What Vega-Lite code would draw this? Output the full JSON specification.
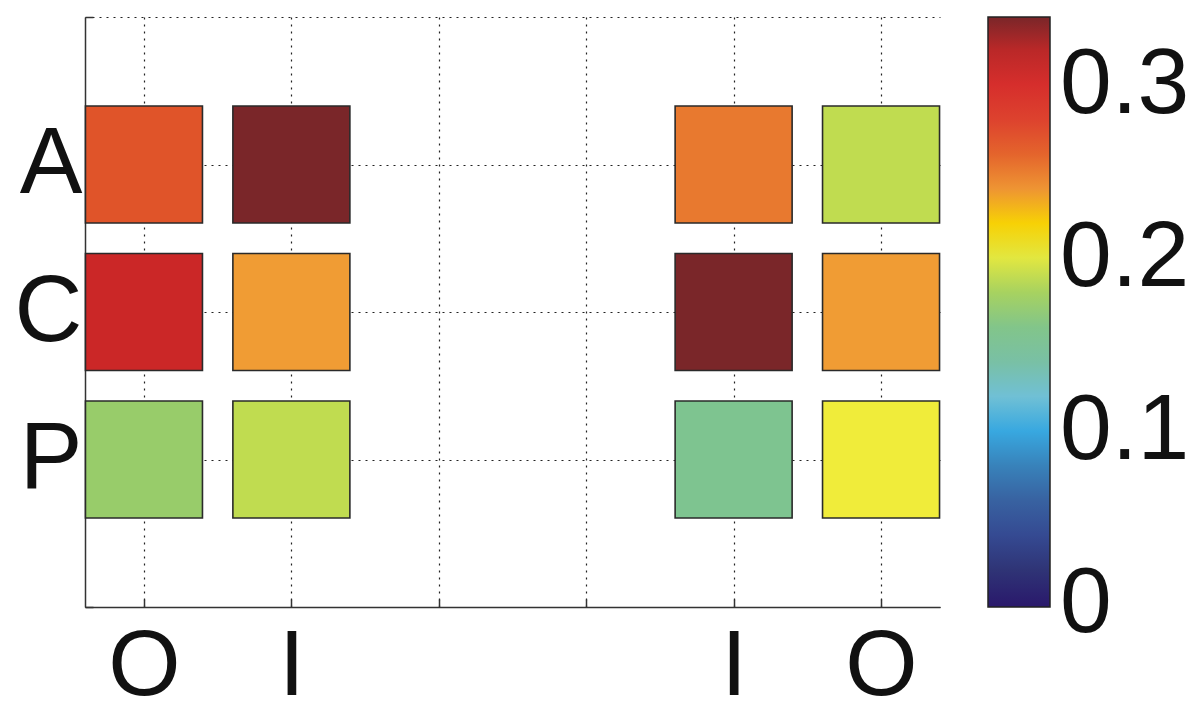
{
  "$schema": "https://vega.github.io/schema/vega-lite/v6.json",
  "width": 855,
  "height": 590,
  "autosize": {"type": "none"},
  "padding": {"left": 85, "top": 17, "right": 254, "bottom": 97},
  "background": "white",
  "config": {
    "view": {"stroke": null},
    "font": "Liberation Sans"
  },
  "data": {
    "values": [
      {"col": 1, "row": 1, "v": 0.268},
      {"col": 2, "row": 1, "v": 0.339},
      {"col": 5, "row": 1, "v": 0.25},
      {"col": 6, "row": 1, "v": 0.188},
      {"col": 1, "row": 2, "v": 0.315},
      {"col": 2, "row": 2, "v": 0.237},
      {"col": 5, "row": 2, "v": 0.339},
      {"col": 6, "row": 2, "v": 0.237},
      {"col": 1, "row": 3, "v": 0.175},
      {"col": 2, "row": 3, "v": 0.188},
      {"col": 5, "row": 3, "v": 0.157},
      {"col": 6, "row": 3, "v": 0.205}
    ]
  },
  "mark": {"type": "point", "shape": "square", "filled": true, "opacity": 1, "size": 13689, "stroke": "#2a2a2a", "strokeWidth": 1.6},
  "encoding": {
    "x": {
      "field": "col", "type": "quantitative",
      "scale": {"domain": [0.6, 6.4], "nice": false, "zero": false},
      "axis": {
        "title": null, "values": [1, 2, 3, 4, 5, 6],
        "labelExpr": "datum.value == 1 || datum.value == 6 ? 'O' : (datum.value == 2 || datum.value == 5 ? 'I' : '')",
        "labelFontSize": 93, "labelColor": "#111", "labelPadding": 22,
        "labelBaseline": "top",
        "domainColor": "#333", "domainWidth": 1.5,
        "tickColor": "#333", "tickSize": -8, "tickWidth": 1.5,
        "grid": true, "gridColor": "#222", "gridDash": [2, 5], "gridWidth": 1.2, "gridOpacity": 1
      }
    },
    "y": {
      "field": "row", "type": "quantitative",
      "scale": {"domain": [0, 4], "nice": false, "zero": false, "reverse": true},
      "axis": {
        "title": null, "values": [0, 1, 2, 3, 4],
        "labelExpr": "datum.value == 1 ? 'A' : (datum.value == 2 ? 'C' : (datum.value == 3 ? 'P' : ''))",
        "labelFontSize": 94, "labelColor": "#111", "labelPadding": 11,
        "domainColor": "#333", "domainWidth": 1.5,
        "tickColor": "#333", "tickSize": -8, "tickWidth": 1.5,
        "grid": true, "gridColor": "#222", "gridDash": [2, 5], "gridWidth": 1.2, "gridOpacity": 1
      }
    },
    "color": {
      "field": "v", "type": "quantitative",
      "scale": {
        "domain": [-0.0015, 0, 0.023, 0.038, 0.054, 0.069, 0.084, 0.1, 0.119, 0.138, 0.157, 0.175, 0.188, 0.205, 0.215, 0.222, 0.23, 0.237, 0.25, 0.268, 0.285, 0.305, 0.315, 0.325, 0.339],
        "range": ["#2a1a6c", "#2a1a6c", "#303878", "#354890", "#38589c", "#3870a8", "#3888c0", "#38a8e0", "#70c0d8", "#78c0a8", "#7ec490", "#98cc6a", "#c0dc50", "#f0ec3a", "#f4dc10", "#f8cc00", "#f0b020", "#f09c34", "#e8792f", "#e05429", "#dc3a30", "#d42a2a", "#cb2727", "#a82828", "#7a2629"],
        "interpolate": "rgb"
      },
      "legend": {
        "title": null, "orient": "none", "legendX": 903, "legendY": 0,
        "direction": "vertical", "gradientLength": 590, "gradientThickness": 62,
        "gradientStrokeColor": "#222", "gradientStrokeWidth": 1.5,
        "values": [0, 0.1, 0.2, 0.3], "format": ".1~f",
        "labelFontSize": 93, "labelColor": "#111", "labelOffset": 10,
        "labelOverlap": false, "labelLimit": 300
      }
    }
  }
}
